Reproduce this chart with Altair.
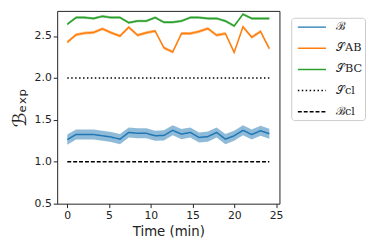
import altair as alt
import pandas as pd

# time points (min)
n = 24
step = 1.052
times = [round(i * step, 3) for i in range(n)]

B = [1.264, 1.326, 1.326, 1.325, 1.31, 1.295, 1.27, 1.35, 1.34, 1.34, 1.31, 1.315,
     1.375, 1.33, 1.35, 1.29, 1.30, 1.35, 1.27, 1.31, 1.375, 1.325, 1.37, 1.335]
S_AB = [2.426, 2.516, 2.535, 2.543, 2.586, 2.54, 2.50, 2.606, 2.51, 2.54, 2.56, 2.36,
        2.31, 2.53, 2.53, 2.555, 2.59, 2.51, 2.53, 2.305, 2.61, 2.485, 2.555, 2.35]
S_BC = [2.64, 2.72, 2.72, 2.71, 2.735, 2.72, 2.72, 2.66, 2.68, 2.68, 2.72, 2.665,
        2.665, 2.68, 2.72, 2.72, 2.71, 2.71, 2.68, 2.62, 2.76, 2.71, 2.71, 2.71]
B_err = [0.06] * n
S_AB_err = [0.018] * n
S_BC_err = [0.015] * n
S_cl = 2.0
B_cl = 1.0

names = ["ℬ", "𝒮AB", "𝒮BC", "𝒮cl", "ℬcl"]
colors = ["#1f77b4", "#ff7f0e", "#2ca02c", "#000000", "#000000"]
dashes = [[1, 0], [1, 0], [1, 0], [1.5, 2.5], [4, 2]]
widths = [1.5, 1.5, 1.5, 1.0, 1.2]

rows = []
for name, vals, errs in [(names[0], B, B_err), (names[1], S_AB, S_AB_err), (names[2], S_BC, S_BC_err)]:
    for t, v, e in zip(times, vals, errs):
        rows.append({"t": t, "v": v, "lo": v - e, "hi": v + e, "s": name})
for name, c in [(names[3], S_cl), (names[4], B_cl)]:
    for t in [times[0], times[-1]]:
        rows.append({"t": t, "v": c, "lo": c, "hi": c, "s": name})
df = pd.DataFrame(rows)

xs = alt.Scale(domain=[-1.21, 25.41], nice=False, zero=False)
ys = alt.Scale(domain=[0.5, 2.8], nice=False, zero=False)
cs = alt.Scale(domain=names, range=colors)

base = alt.Chart(df)

band = base.transform_filter(
    alt.FieldOneOfPredicate(field="s", oneOf=names[:3])
).mark_area(opacity=0.5, strokeWidth=0).encode(
    x=alt.X("t:Q", scale=xs),
    y=alt.Y("lo:Q", scale=ys),
    y2="hi:Q",
    fill=alt.Fill("s:N", scale=alt.Scale(domain=names[:3], range=colors[:3]),
                  legend=None),
    detail="s:N",
)

lines = base.mark_line().encode(
    x=alt.X("t:Q", scale=xs,
            axis=alt.Axis(values=[0, 5, 10, 15, 20, 25], title="Time (min)")),
    y=alt.Y("v:Q", scale=ys,
            axis=alt.Axis(values=[0.5, 1.0, 1.5, 2.0, 2.5], format=".1f",
                          title="ℬₑₓₚ", titleFontSize=19, titleFontWeight="normal",
                          titlePadding=5)),
    color=alt.Color("s:N", scale=cs, sort=names,
                    legend=alt.Legend(title=None, orient="none", legendX=238, legendY=7,
                                      symbolType="M-2.6,0H2.6", symbolSize=121,
                                      symbolStrokeWidth=1.5, symbolOffset=11.5,
                                      labelOffset=18,
                                      labelFontSize=11.5, rowPadding=9.5,
                                      padding=3, strokeColor="#cccccc",
                                      fillColor="white", cornerRadius=3,
                                      labelFont="DejaVu Serif", labelColor="#222222")),
    strokeDash=alt.StrokeDash("s:N", scale=alt.Scale(domain=names, range=dashes),
                              sort=names, legend=alt.Legend(title=None)),
    strokeWidth=alt.StrokeWidth("s:N", scale=alt.Scale(domain=names, range=widths),
                                legend=None),
)

chart = alt.layer(band, lines).resolve_scale(fill="independent").properties(
    width=226, height=196,
    autosize=alt.AutoSizeParams(type="none"),
    padding={"left": 50, "top": 1, "right": 88, "bottom": 36},
).configure_view(
    stroke="#222222", strokeWidth=1
).configure_axis(
    grid=False, domain=False, tickColor="#222222", tickSize=4,
    labelFont="DejaVu Sans", labelFontSize=11, labelColor="#222222",
    titleFont="DejaVu Sans", titleFontSize=13.5, titleFontWeight="normal",
    titleColor="#222222", labelPadding=2,
)

chart.save("out.html", embed_options={"renderer": "svg", "actions": False})
